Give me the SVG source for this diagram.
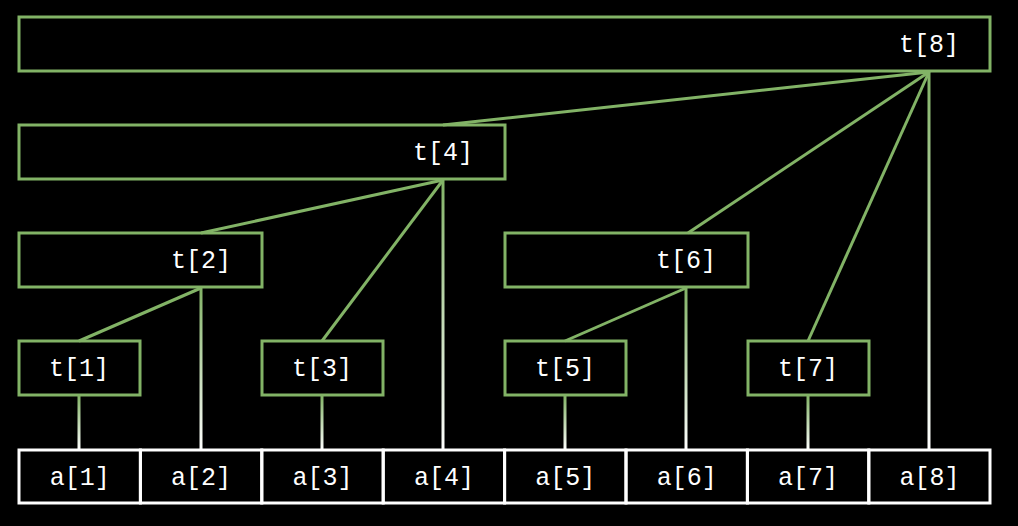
<svg xmlns="http://www.w3.org/2000/svg" width="1018" height="526" viewBox="0 0 1018 526">
<style>
.t{fill:none;stroke:#82b366;stroke-width:3}
.a{fill:none;stroke:#fff;stroke-width:3}
.c{stroke:#82b366;stroke-width:3;fill:none}
text{font-family:"Liberation Mono","DejaVu Sans Mono",monospace;font-size:25px;fill:#fff;text-anchor:middle}
</style>
<defs>
<linearGradient id="g72" gradientUnits="userSpaceOnUse" x1="0" y1="72" x2="0" y2="450"><stop offset="0" stop-color="#82b366"/><stop offset="1" stop-color="#fff"/></linearGradient>
<linearGradient id="g180" gradientUnits="userSpaceOnUse" x1="0" y1="180" x2="0" y2="450"><stop offset="0" stop-color="#82b366"/><stop offset="1" stop-color="#fff"/></linearGradient>
<linearGradient id="g288" gradientUnits="userSpaceOnUse" x1="0" y1="288" x2="0" y2="450"><stop offset="0" stop-color="#82b366"/><stop offset="1" stop-color="#fff"/></linearGradient>
<linearGradient id="g396" gradientUnits="userSpaceOnUse" x1="0" y1="396" x2="0" y2="450"><stop offset="0" stop-color="#82b366"/><stop offset="1" stop-color="#fff"/></linearGradient>
</defs>
<rect width="1018" height="526" fill="#000"/>
<g id="connectors">
<line class="c" x1="929" y1="72" x2="443" y2="125"/>
<line class="c" x1="929" y1="72" x2="688" y2="233"/>
<line class="c" x1="929" y1="72" x2="808" y2="341"/>
<line class="c" x1="443" y1="180" x2="201" y2="233"/>
<line class="c" x1="443" y1="180" x2="322" y2="341"/>
<line class="c" x1="201" y1="288" x2="79" y2="341"/>
<line class="c" x1="686" y1="288" x2="565" y2="341"/>
<line x1="929" y1="72" x2="929" y2="450" stroke="url(#g72)" stroke-width="3"/>
<line x1="443" y1="180" x2="443" y2="450" stroke="url(#g180)" stroke-width="3"/>
<line x1="201" y1="288" x2="201" y2="450" stroke="url(#g288)" stroke-width="3"/>
<line x1="686" y1="288" x2="686" y2="450" stroke="url(#g288)" stroke-width="3"/>
<line x1="79" y1="396" x2="79" y2="450" stroke="url(#g396)" stroke-width="3"/>
<line x1="322" y1="396" x2="322" y2="450" stroke="url(#g396)" stroke-width="3"/>
<line x1="565" y1="396" x2="565" y2="450" stroke="url(#g396)" stroke-width="3"/>
<line x1="808" y1="396" x2="808" y2="450" stroke="url(#g396)" stroke-width="3"/>
</g>
<g id="t8"><rect class="t" x="19" y="17" width="971" height="54"/><text x="929" y="52">t[8]</text></g>
<g id="t4"><rect class="t" x="19" y="125" width="486" height="54"/><text x="443" y="160">t[4]</text></g>
<g id="t2"><rect class="t" x="19" y="233" width="243" height="54"/><text x="201" y="268">t[2]</text></g>
<g id="t6"><rect class="t" x="505" y="233" width="243" height="54"/><text x="686" y="268">t[6]</text></g>
<g id="t1"><rect class="t" x="19" y="341" width="121" height="54"/><text x="79" y="376">t[1]</text></g>
<g id="t3"><rect class="t" x="262" y="341" width="121" height="54"/><text x="322" y="376">t[3]</text></g>
<g id="t5"><rect class="t" x="505" y="341" width="121" height="54"/><text x="565" y="376">t[5]</text></g>
<g id="t7"><rect class="t" x="748" y="341" width="121" height="54"/><text x="808" y="376">t[7]</text></g>
<g id="a1"><rect class="a" x="19" y="450" width="121.4" height="53"/><text x="79.7" y="485">a[1]</text></g>
<g id="a2"><rect class="a" x="140.4" y="450" width="121.4" height="53"/><text x="201" y="485">a[2]</text></g>
<g id="a3"><rect class="a" x="261.8" y="450" width="121.4" height="53"/><text x="322.5" y="485">a[3]</text></g>
<g id="a4"><rect class="a" x="383.2" y="450" width="121.4" height="53"/><text x="443.9" y="485">a[4]</text></g>
<g id="a5"><rect class="a" x="504.6" y="450" width="121.4" height="53"/><text x="565.3" y="485">a[5]</text></g>
<g id="a6"><rect class="a" x="626" y="450" width="121.4" height="53"/><text x="686.7" y="485">a[6]</text></g>
<g id="a7"><rect class="a" x="747.4" y="450" width="121.4" height="53"/><text x="808.1" y="485">a[7]</text></g>
<g id="a8"><rect class="a" x="868.8" y="450" width="121.2" height="53"/><text x="929.4" y="485">a[8]</text></g>
</svg>
